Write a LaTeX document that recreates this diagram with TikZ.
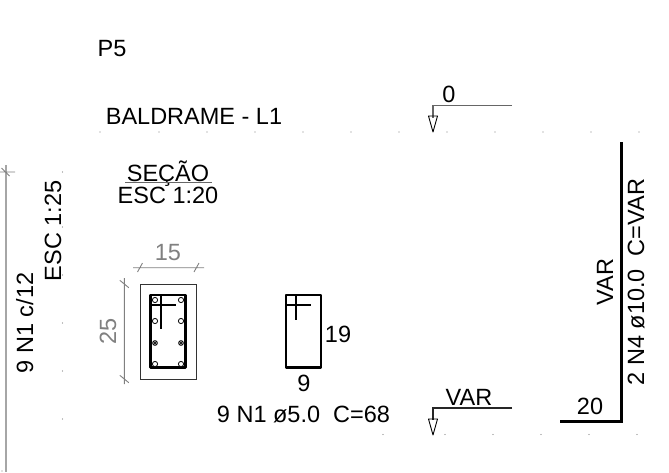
\documentclass[tikz,border=0pt]{standalone}
\usepackage{fontspec}
\setmainfont{Liberation Sans}
\usetikzlibrary{calc, positioning}
\tikzset{
  txt/.style={inner sep=0pt, anchor=base, text=black, font=\fontsize{23.5}{28}\selectfont},
  txtv/.style={txt, rotate=90},
  dim/.style={txt, text=black!50},
  dimv/.style={dim, rotate=90},
  dimline/.style={draw=black!50, line width=0.9pt},
  thickbar/.style={draw=black, line width=3pt},
  stirrup/.style={draw=black, line width=2.8pt, line join=round},
  hookbar/.style={draw=black, line width=1.8pt},
  levelline/.style={draw=black!60, line width=1.5pt},
  griddot/.style={fill=black!50}
}
\begin{document}
\begin{tikzpicture}[x=1pt, y=-1pt]
                        \useasboundingbox (0, 0) rectangle (669, 472);
                        \foreach \px in {100, 159, 207, 255, 303, 351, 399, 447, 495, 543, 591, 639}
                            \fill[griddot] (\px, 132) circle (0.7);
                        \foreach \py in {172, 227, 275, 323, 371, 419}
                            \fill[griddot] (62.5, \py) circle (0.7);
                        \foreach \px in {383, 445, 493, 541, 589, 637}
                            \fill[griddot] (\px, 434.5) circle (0.7);
                        \fill[griddot] (2, 471) circle (0.7);
                        \node[txt] (p5) at (112, 56.4) {P5};
                        \node[txt] (baldrame) at (194, 124.4) {BALDRAME - L1};
                        \node[txt] (secao) at (168, 181) {SEÇÃO};
                        \node[txt] (esc20) at (168, 203.5) {ESC 1:20};
                        \node[txtv] (esc25) at (61, 231) {ESC 1:25};
                        \node[txtv] (n1c) at (33, 323) {9 N1 c/12};
                        \node[dim] (d15) at (168, 260.5) {15};
                        \node[dimv] (d25) at (116, 331) {25};
                        \node[txt] (l19) at (338, 342) {19};
                        \node[txt] (l9) at (304, 391) {9};
                        \node[txt] (n1) at (303.5, 422) {9 N1 ø5.0\ \ C=68};
                        \node[txt] (l0) at (449, 102) {0};
                        \node[txt] (lvar) at (469, 405) {VAR};
                        \node[txt] (l20) at (590, 414) {20};
                        \node[txtv] (var) at (613, 282) {VAR};
                        \node[txtv] (n4) at (644, 282) {2 N4 ø10.0\ \ C=VAR};
                        \draw[draw=black!60, line width=1pt] (125, 182) -- (212, 182);
                        \draw[draw=black!35, line width=2pt] (6, 165) -- (6, 472);
                        \draw[dimline] (0, 172) -- (15, 172) (1.5, 168) -- (9.5, 176);
                        \draw[dimline] (133, 267.7) -- (204, 267.7)
                            (137.5, 272) -- (142.5, 263)
                            (194, 272) -- (199, 263);
                        \draw[dimline] (124.3, 278) -- (124.3, 384)
                            (119.8, 280.3) -- (128.8, 287.7)
                            (119.8, 375.3) -- (128.8, 382.7);
                        \draw[draw=black!80, line width=1pt] (140, 284) rectangle (196.7, 379);
                        \draw[stirrup] (150.7, 295) rectangle (185.7, 367.3);
                        \draw[hookbar] (151, 305) -- (176, 305) (160.7, 295) -- (160.7, 329);
                        \foreach \px in {155, 181}
                            \foreach \py in {300, 321, 364}
                                \draw[fill=white, line width=0.8pt] (\px, \py) circle (2.6);
                        \foreach \px in {155, 181} {
                            \draw[fill=black!30, line width=0.7pt] (\px, 343) circle (2.4);
                            \draw[line width=0.6pt] (\px-2, 341) -- (\px+2, 345) (\px-2, 345) -- (\px+2, 341);
                        }
                        \draw[stirrup] (286, 295) rectangle (321, 367.7);
                        \draw[hookbar] (286, 305) -- (311, 305) (296, 295) -- (296, 320);
                        \draw[levelline] (512, 105.7) -- (433, 105.7) -- (433, 118);
                        \draw[line width=0.9pt, line join=round] (428.5, 116) -- (437.5, 116) -- (433, 132) -- cycle;
                        \draw[draw=black!85, line width=1.2pt] (512, 408) -- (433, 408) -- (433, 420);
                        \draw[line width=0.9pt, line join=round] (428.5, 419) -- (437.5, 419) -- (433, 435) -- cycle;
                        \draw[thickbar] (621, 142) -- (621, 421) -- (560, 421);
                    \end{tikzpicture}
\end{document}
